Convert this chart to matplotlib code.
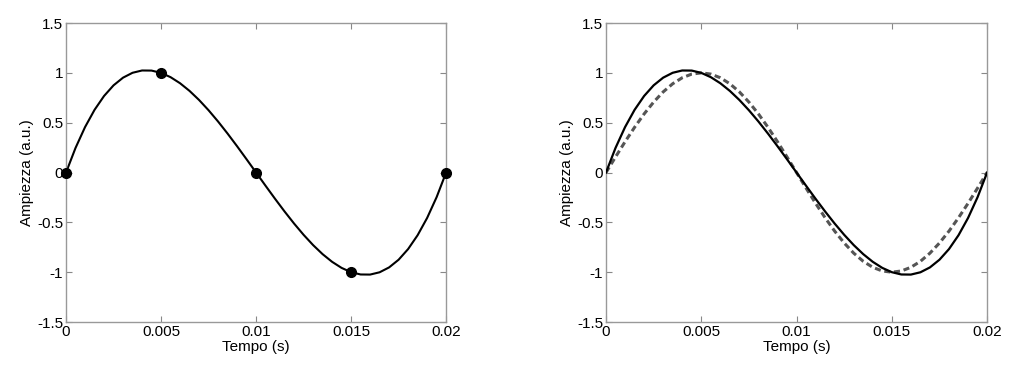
import matplotlib
matplotlib.use("Agg")
import matplotlib.pyplot as plt

plt.rcParams['font.family'] = ['Liberation Sans', 'DejaVu Sans']

# sample points
t_samples = [0.0, 0.005, 0.01, 0.015, 0.02]
a_samples = [0.0, 1.0, 0.0, -1.0, 0.0]

# time grid for curves (s)
t_curve = [0.0, 0.0005, 0.001, 0.0015, 0.002, 0.0025, 0.003, 0.0035, 0.004, 0.0045,
           0.005, 0.0055, 0.006, 0.0065, 0.007, 0.0075, 0.008, 0.0085, 0.009, 0.0095,
           0.01, 0.0105, 0.011, 0.0115, 0.012, 0.0125, 0.013, 0.0135, 0.014, 0.0145,
           0.015, 0.0155, 0.016, 0.0165, 0.017, 0.0175, 0.018, 0.0185, 0.019, 0.0195, 0.02]

# reconstructed (solid) curve values
a_solid = [0.0, 0.247, 0.456, 0.629, 0.768, 0.875, 0.952, 1.001, 1.024, 1.023,
           1.0, 0.957, 0.896, 0.819, 0.728, 0.625, 0.512, 0.391, 0.264, 0.133,
           0.0, -0.133, -0.264, -0.391, -0.512, -0.625, -0.728, -0.819, -0.896, -0.957,
           -1.0, -1.023, -1.024, -1.001, -0.952, -0.875, -0.768, -0.629, -0.456, -0.247, 0.0]

# original (dashed) curve values
a_dashed = [0.0, 0.156, 0.309, 0.454, 0.588, 0.707, 0.809, 0.891, 0.951, 0.988,
            1.0, 0.988, 0.951, 0.891, 0.809, 0.707, 0.588, 0.454, 0.309, 0.156,
            0.0, -0.156, -0.309, -0.454, -0.588, -0.707, -0.809, -0.891, -0.951, -0.988,
            -1.0, -0.988, -0.951, -0.891, -0.809, -0.707, -0.588, -0.454, -0.309, -0.156, 0.0]

x_ticks = [0, 0.005, 0.01, 0.015, 0.02]
x_ticklabels = ['0', '0.005', '0.01', '0.015', '0.02']
y_ticks = [-1.5, -1, -0.5, 0, 0.5, 1, 1.5]
y_ticklabels = ['-1.5', '-1', '-0.5', '0', '0.5', '1', '1.5']

fig = plt.figure(figsize=(10.19, 3.70), dpi=100)
ax1 = fig.add_axes([0.0648, 0.1297, 0.373, 0.808])
ax2 = fig.add_axes([0.5947, 0.1297, 0.374, 0.808])

ax1.plot(t_curve, a_solid, color='black', lw=1.5, zorder=2, solid_joinstyle='round')
ax1.plot(t_samples, a_samples, 'o', color='black', ms=7, zorder=3, clip_on=False)

ax2.plot(t_curve, a_solid, color='black', lw=1.6, zorder=3, solid_joinstyle='round')
ax2.plot(t_curve, a_dashed, color='#555555', lw=2.2, ls=(0, (2.0, 1.2)), zorder=2)

for ax in (ax1, ax2):
    ax.set_xlim(0, 0.02)
    ax.set_ylim(-1.5, 1.5)
    ax.set_xticks(x_ticks)
    ax.set_xticklabels(x_ticklabels)
    ax.set_yticks(y_ticks)
    ax.set_yticklabels(y_ticklabels)
    ax.tick_params(direction='in', top=True, right=True, length=4, width=0.8,
                   color='#888888', labelsize=11, pad=2)
    for s in ax.spines.values():
        s.set_color('#999999')
        s.set_linewidth(1.0)
    ax.set_xlabel('Tempo (s)', fontsize=11, labelpad=1)
    ax.set_ylabel('Ampiezza (a.u.)', fontsize=11, labelpad=2)

fig.savefig('out.png', dpi=100)
